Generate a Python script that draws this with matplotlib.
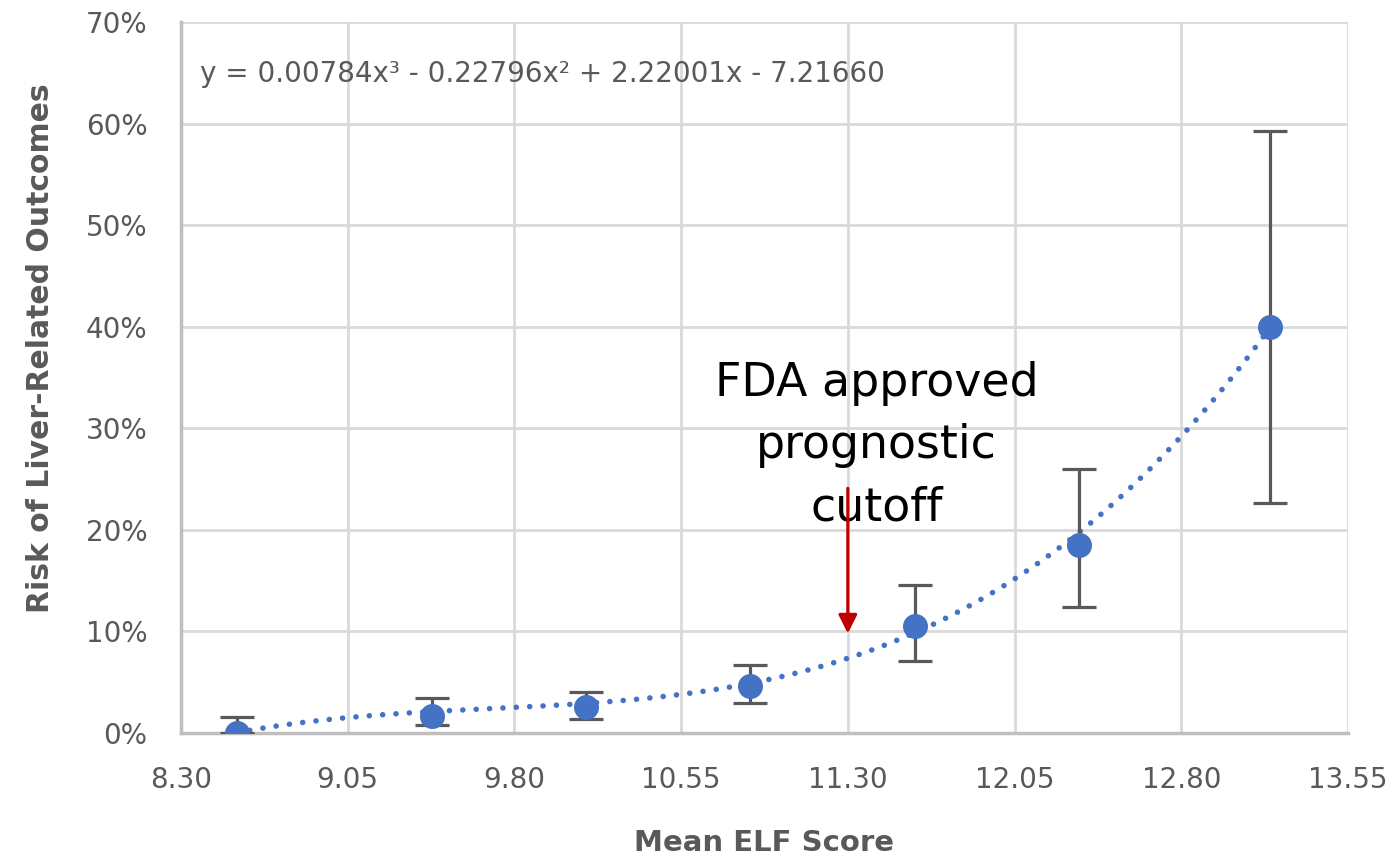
"""ELF score vs. risk of liver-related outcomes, with cubic trendline."""

import numpy as np
import matplotlib

matplotlib.use("Agg")

import matplotlib.pyplot as plt
from matplotlib.ticker import PercentFormatter

# mean ELF score per group and observed risk (fraction), with CI bounds
elf_score = [8.55, 9.43, 10.12, 10.86, 11.60, 12.34, 13.20]
risk = [0.000, 0.017, 0.026, 0.046, 0.105, 0.185, 0.400]
risk_low = [0.000, 0.008, 0.014, 0.030, 0.071, 0.124, 0.227]
risk_high = [0.016, 0.034, 0.040, 0.067, 0.146, 0.260, 0.593]

# cubic trendline coefficients (highest power first), risk as a fraction
trend_coef = [0.00784, -0.22796, 2.22001, -7.21660]
trend_label = "y = 0.00784x³ - 0.22796x² + 2.22001x - 7.21660"

x_ticks = [8.30, 9.05, 9.80, 10.55, 11.30, 12.05, 12.80, 13.55]
y_ticks = [0.0, 0.1, 0.2, 0.3, 0.4, 0.5, 0.6, 0.7]

cutoff_x = 11.30
cutoff_arrow = (0.241, 0.098)
cutoff_text = "FDA approved\nprognostic\ncutoff"

BLUE = "#4472C4"
GRAY_TEXT = "#595959"
GRID = "#d9d9d9"
AXIS = "#bfbfbf"
RED = "#C00000"

fig = plt.figure(figsize=(13.94, 8.61), dpi=100)
ax = fig.add_axes([0.1298, 0.1487, 0.8372, 0.8252])

# trendline evaluated from the stated coefficients
xs = np.linspace(elf_score[0], elf_score[-1], 300)
ys = np.polyval(trend_coef, xs)
ax.plot(xs, ys, color=BLUE, lw=4, linestyle=(0, (0.01, 2.4)),
        dash_capstyle="round", zorder=3)

risk_arr = np.array(risk)
yerr = [risk_arr - np.array(risk_low), np.array(risk_high) - risk_arr]
ax.errorbar(elf_score, risk, yerr=yerr, fmt="none", ecolor=GRAY_TEXT,
            elinewidth=2.3, capsize=12, capthick=2.3, zorder=4)
ax.plot(elf_score, risk, "o", color=BLUE, ms=17, zorder=5)

ax.set_xlim(x_ticks[0], x_ticks[-1])
ax.set_ylim(y_ticks[0], y_ticks[-1])
ax.set_xticks(x_ticks)
ax.set_xticklabels([f"{v:.2f}" for v in x_ticks])
ax.set_yticks(y_ticks)
ax.yaxis.set_major_formatter(PercentFormatter(1.0, decimals=0))
ax.tick_params(length=0, labelsize=20, colors=GRAY_TEXT)
ax.tick_params(axis="x", pad=24)
ax.tick_params(axis="y", pad=24)

ax.grid(True, color=GRID, lw=2)
ax.set_axisbelow(True)
for side in ("top", "right"):
    ax.spines[side].set_visible(False)
for side in ("left", "bottom"):
    ax.spines[side].set_color(AXIS)
    ax.spines[side].set_linewidth(2.5)

ax.set_xlabel("Mean ELF Score", fontsize=21, fontweight="bold",
              color=GRAY_TEXT)
ax.xaxis.set_label_coords(0.5, -0.135)
ax.set_ylabel("Risk of Liver-Related Outcomes", fontsize=21.5,
              fontweight="bold", color=GRAY_TEXT)
ax.yaxis.set_label_coords(-0.108, 0.542)

ax.text(0.016, 0.928, trend_label, transform=ax.transAxes, fontsize=20,
        color=GRAY_TEXT, va="center", ha="left")

ax.text(11.43, 0.283, cutoff_text, fontsize=33, color="black",
        ha="center", va="center", linespacing=1.5, zorder=6)
ax.annotate("", xy=(cutoff_x, cutoff_arrow[1]), xytext=(cutoff_x, cutoff_arrow[0]),
            arrowprops=dict(arrowstyle="-|>", color=RED, lw=2.3,
                            mutation_scale=28, shrinkA=0, shrinkB=0),
            zorder=7)

fig.savefig("out.png", dpi=100)
